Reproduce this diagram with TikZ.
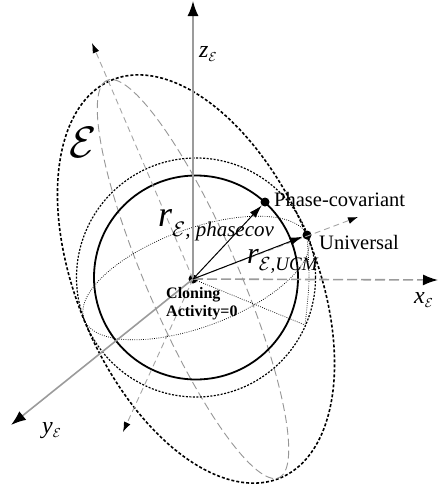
\RequirePackage{fix-cm}
\documentclass[tikz,border=0pt]{standalone}
\usepackage{fontspec}
\setmainfont{Liberation Serif}
\usetikzlibrary{arrows.meta}
\definecolor{axgray}{RGB}{155,155,155}
\definecolor{mergray}{RGB}{150,150,150}
\definecolor{elgray}{RGB}{165,165,165}
\newcommand{\fsz}[1]{\fontsize{#1}{#1}\selectfont}
\begin{document}
\begin{tikzpicture}[x=1pt,y=-1pt,
  bigaxis/.style={draw=axgray, line width=1.6pt, -{Latex[length=15pt,width=11pt,color=black]}},
  elaxis/.style={draw=elgray, line width=0.9pt, dash pattern=on 6pt off 4pt, -{Latex[length=10pt,width=7pt,color=black]}},
  outl/.style={draw=black, line width=1.6pt, dash pattern=on 3pt off 2pt},
  meridian/.style={draw=mergray, line width=0.9pt, dash pattern=on 8pt off 4pt},
  solidc/.style={draw=black, line width=1.8pt},
  dotc/.style={draw=black, line width=1.2pt, dash pattern=on 2pt off 1.5pt},
  finedot/.style={draw=black, line width=0.7pt, dash pattern=on 0.8pt off 1.4pt},
  vec/.style={draw=black, line width=1pt, -{Latex[length=13pt,width=8pt]}},
  dot/.style={circle, fill=black, inner sep=0pt, minimum size=9pt},
  lbl/.style={anchor=base west, inner sep=0pt}
]
\useasboundingbox (0,0) rectangle (439,493);
% key points
\coordinate (O) at (193,279);
\coordinate (C) at (196,277.5);
\coordinate (ztip) at (193,1);
\coordinate (xtip) at (438,280);
\coordinate (ytip) at (11,425);
\coordinate (e1) at (92,43);
\coordinate (e2) at (123,432);
\coordinate (e3) at (358,217);
\coordinate (Q) at (305,325);
% ellipsoid outline
\draw[outl] plot[domain=0:360, samples=241] ({196 - 84.9*cos(\x) + 109.5*sin(\x)}, {279 - 198.7*cos(\x) - 46.8*sin(\x)}) -- cycle;
% meridian of the ellipsoid
\draw[meridian] plot[domain=0:360, samples=241] ({193 - 85*cos(\x) - 44*sin(\x)}, {279 - 199*cos(\x) + 14*sin(\x)}) -- cycle;
% spheres
\draw[solidc] (C) circle[radius=102pt];
\draw[dotc] (C) circle[radius=119.5pt];
% equator of the outer sphere
\draw[finedot] plot[domain=0:360, samples=241] ({196 + 111.9*cos(\x) + 17*sin(\x)}, {278 - 41.3*cos(\x) + 46*sin(\x)}) -- cycle;
% dots
\node[dot] (Od) at (O) {};
\node[dot] (PC) at (265,202) {};
\node[dot] (U) at (307,235) {};
% fine dotted construction lines
\draw[finedot] (O) -- (Q);
\draw[finedot] (U.center) .. controls (310,280) .. (Q);
% ellipsoid axes
\draw[elaxis] (O) -- (e1);
\draw[elaxis] (O) -- (e2);
\draw[elaxis] (O) -- (e3);
% frame axes
\draw[bigaxis] (O) -- (ztip);
\draw[bigaxis, dash pattern=on 10pt off 4pt] (O) -- (xtip);
\draw[bigaxis] (O) -- (ytip);
% vectors
\draw[vec] (O) -- (PC);
\draw[vec] (O) -- (U);
% labels
\node[lbl] (zl) at (199,57) {\fsz{24}\textit{z}\raisebox{-4pt}{\fsz{13}$\mathcal{E}$}};
\node[lbl] (xl) at (414,303) {\fsz{24}\textit{x}\raisebox{-4pt}{\fsz{13}$\mathcal{E}$}};
\node[lbl] (yl) at (42,433) {\fsz{24}\textit{y}\raisebox{-4pt}{\fsz{13}$\mathcal{E}$}};
\node (El) at (83,142) {\fsz{44}$\mathcal{E}$};
\node[lbl] (rpc) at (158,226) {\fsz{36}\textit{r}\raisebox{-10pt}{\fsz{21}$\mathcal{E}$\textit{, phasecov}}};
\node[lbl] (ruc) at (247,263) {\fsz{30}\textit{r}\raisebox{-7pt}{\fsz{19}$\mathcal{E}$\textit{,UCM}}};
\node[lbl] (pcl) at (274,206) {\fsz{20.5}Phase-covariant};
\node[lbl] (ul) at (319,249) {\fsz{20.5}Universal};
\node[lbl] (cl1) at (166,298) {\fsz{16}\bfseries Cloning};
\node[lbl] (cl2) at (166,316) {\fsz{16}\bfseries Activity=0};
\end{tikzpicture}
\end{document}
